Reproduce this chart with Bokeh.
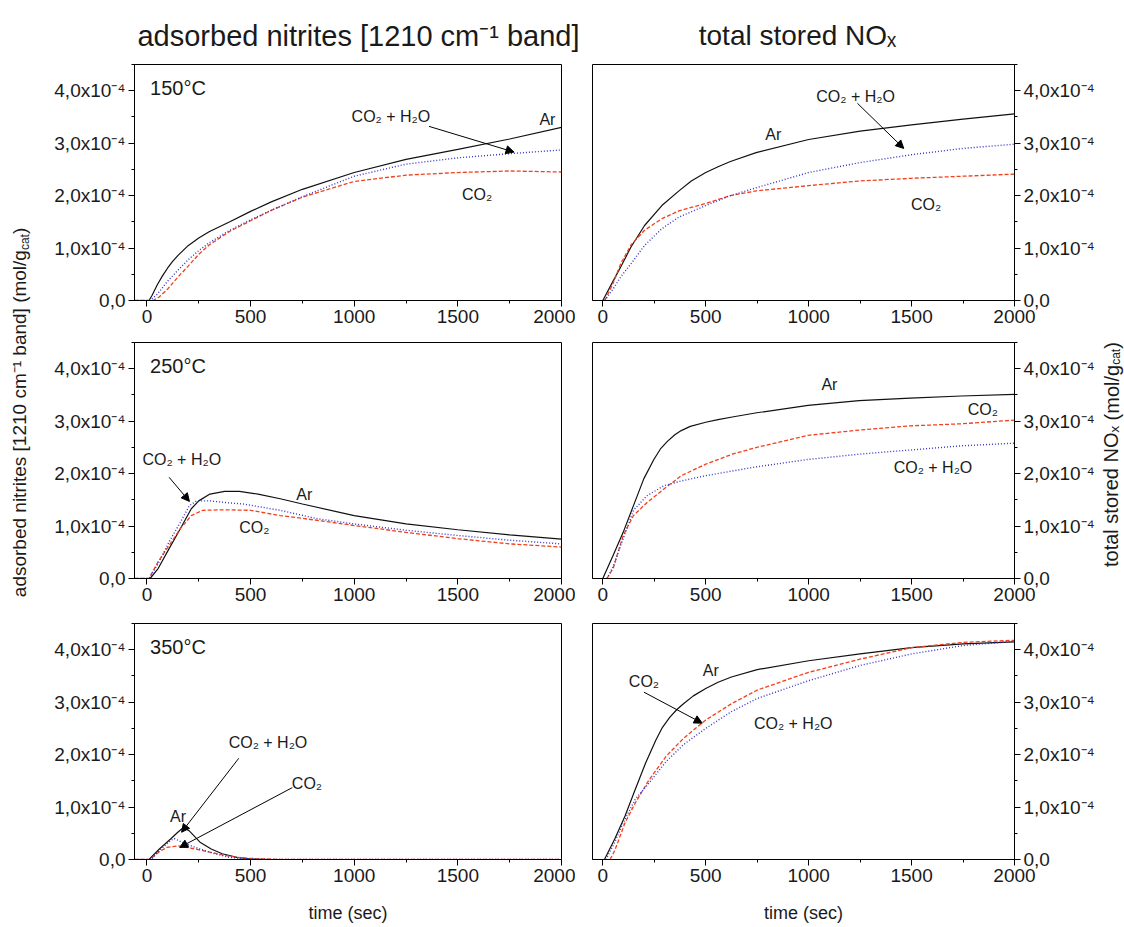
from bokeh.plotting import figure
from bokeh.models import (FixedTicker, CustomJSTickFormatter, Label, Arrow,
                          NormalHead, Range1d)
from bokeh.core.properties import value
from bokeh.layouts import column, row
from bokeh.embed import file_html
from bokeh.resources import INLINE

FONT = "Liberation Sans"
SCALE = 1e-4  # all y values below are in units of 1e-4 mol/g_cat

# ---------------- data (time in s, amount in 1e-4 mol/g_cat) ----------------
# 150 C - adsorbed nitrites
t150n_ar = [-60, 0, 10, 25, 50, 75, 100, 125, 150, 200, 250, 300, 400, 500, 600, 750, 1000, 1250, 1500, 1750, 2000]
y150n_ar = [0, 0, 0, 0.10, 0.30, 0.47, 0.62, 0.75, 0.86, 1.05, 1.19, 1.31, 1.50, 1.70, 1.88, 2.12, 2.44, 2.69, 2.88, 3.08, 3.30]
t150n_co2 = [-60, 0, 30, 60, 100, 150, 200, 250, 300, 400, 500, 600, 750, 1000, 1250, 1500, 1750, 2000]
y150n_co2 = [0, 0, 0, 0.07, 0.22, 0.45, 0.66, 0.88, 1.06, 1.32, 1.52, 1.72, 1.97, 2.27, 2.39, 2.44, 2.47, 2.45]
t150n_h2o = [-60, 0, 15, 50, 100, 150, 200, 250, 300, 400, 500, 600, 750, 1000, 1250, 1500, 1750, 2000]
y150n_h2o = [0, 0, 0, 0.12, 0.37, 0.58, 0.78, 0.95, 1.10, 1.34, 1.54, 1.72, 1.98, 2.37, 2.60, 2.72, 2.80, 2.87]

# 150 C - total stored NOx
t150s_ar = [0, 50, 87, 137, 203, 287, 370, 430, 500, 560, 620, 745, 1000, 1250, 1500, 1750, 2000]
y150s_ar = [0, 0.37, 0.64, 1.02, 1.43, 1.81, 2.09, 2.28, 2.44, 2.55, 2.65, 2.82, 3.07, 3.23, 3.35, 3.46, 3.56]
t150s_co2 = [10, 50, 87, 137, 203, 287, 370, 500, 620, 745, 1000, 1250, 1500, 1750, 2000]
y150s_co2 = [0, 0.33, 0.70, 1.06, 1.34, 1.56, 1.71, 1.85, 2.00, 2.09, 2.19, 2.28, 2.33, 2.37, 2.41]
t150s_h2o = [10, 50, 87, 137, 203, 287, 370, 500, 620, 745, 1000, 1250, 1500, 1750, 2000]
y150s_h2o = [0, 0.22, 0.45, 0.70, 1.05, 1.37, 1.59, 1.81, 2.00, 2.15, 2.44, 2.63, 2.78, 2.90, 2.98]

# 250 C - adsorbed nitrites
t250n_ar = [-60, 0, 15, 54, 107, 161, 214, 250, 304, 375, 446, 536, 643, 750, 1000, 1250, 1500, 1750, 2000]
y250n_ar = [0, 0, 0, 0.19, 0.57, 0.95, 1.33, 1.48, 1.61, 1.66, 1.66, 1.61, 1.52, 1.42, 1.20, 1.04, 0.93, 0.83, 0.75]
t250n_co2 = [-60, 0, 10, 54, 107, 161, 214, 268, 375, 500, 643, 821, 1000, 1250, 1500, 1750, 2000]
y250n_co2 = [0, 0, 0, 0.32, 0.63, 0.95, 1.20, 1.30, 1.31, 1.30, 1.20, 1.11, 1.01, 0.88, 0.76, 0.66, 0.60]
t250n_h2o = [-60, 0, 10, 54, 107, 161, 205, 240, 304, 375, 464, 643, 821, 1000, 1250, 1500, 1750, 2000]
y250n_h2o = [0, 0, 0, 0.28, 0.70, 1.07, 1.39, 1.48, 1.48, 1.45, 1.42, 1.30, 1.14, 1.04, 0.92, 0.82, 0.73, 0.66]

# 250 C - total stored NOx
t250s_ar = [0, 50, 99, 149, 199, 248, 280, 315, 350, 381, 425, 500, 560, 629, 748, 997, 1245, 1493, 1742, 2000]
y250s_ar = [0, 0.44, 0.88, 1.39, 1.90, 2.27, 2.47, 2.62, 2.74, 2.82, 2.90, 2.98, 3.03, 3.08, 3.16, 3.30, 3.39, 3.44, 3.48, 3.51]
t250s_co2 = [20, 50, 99, 149, 215, 298, 381, 500, 629, 748, 997, 1245, 1493, 1742, 2000]
y250s_co2 = [0, 0.19, 0.82, 1.20, 1.45, 1.71, 1.96, 2.18, 2.37, 2.50, 2.73, 2.83, 2.91, 2.95, 3.02]
t250s_h2o = [20, 50, 99, 149, 215, 298, 381, 500, 629, 748, 997, 1245, 1493, 1742, 2000]
y250s_h2o = [0, 0.22, 0.76, 1.30, 1.58, 1.77, 1.86, 1.96, 2.05, 2.13, 2.27, 2.37, 2.45, 2.53, 2.58]

# 350 C - adsorbed nitrites
t350n_ar = [-60, 0, 10, 60, 114, 149, 176, 203, 256, 310, 363, 434, 500, 600, 2000]
y350n_ar = [0, 0, 0, 0.20, 0.39, 0.52, 0.61, 0.55, 0.33, 0.20, 0.11, 0.04, 0.01, 0, 0]
t350n_co2 = [-60, 0, 15, 60, 96, 149, 220, 292, 363, 434, 505, 576, 650, 2000]
y350n_co2 = [0, 0, 0, 0.15, 0.23, 0.26, 0.21, 0.15, 0.09, 0.04, 0.02, 0.01, 0, 0]
t350n_h2o = [-60, 0, 20, 60, 114, 132, 185, 256, 327, 400, 500, 600, 2000]
y350n_h2o = [0, 0, 0, 0.17, 0.36, 0.40, 0.30, 0.20, 0.11, 0.04, 0.01, 0, 0]

# 350 C - total stored NOx
t350s_ar = [8, 58, 108, 158, 208, 258, 290, 325, 360, 392, 440, 500, 560, 625, 750, 1000, 1250, 1500, 1750, 2000]
y350s_ar = [0, 0.39, 0.83, 1.34, 1.84, 2.28, 2.52, 2.71, 2.86, 2.97, 3.12, 3.26, 3.38, 3.48, 3.62, 3.79, 3.92, 4.04, 4.11, 4.15]
t350s_co2 = [35, 58, 108, 158, 225, 308, 392, 500, 625, 750, 1000, 1250, 1500, 1750, 2000]
y350s_co2 = [0, 0.17, 0.70, 1.08, 1.52, 1.97, 2.31, 2.66, 2.97, 3.23, 3.57, 3.82, 4.04, 4.14, 4.18]
t350s_h2o = [15, 58, 108, 158, 225, 308, 392, 500, 625, 750, 1000, 1250, 1500, 1750, 2000]
y350s_h2o = [0, 0.33, 0.77, 1.15, 1.46, 1.87, 2.19, 2.50, 2.82, 3.07, 3.41, 3.70, 3.92, 4.08, 4.16]

x_ticks = [0, 500, 1000, 1500, 2000]
x_minor = [250, 750, 1250, 1750]
y_ticks = [0, 1, 2, 3, 4]
y_minor = [0.5, 1.5, 2.5, 3.5, 4.5]
temps = ["150°C", "250°C", "350°C"]
col_titles = ["adsorbed nitrites [1210 cm⁻¹ band]", "total stored NOₓ"]
ylabel_left = "adsorbed nitrites [1210 cm⁻¹ band] (mol/g"
ylabel_right = "total stored NOₓ (mol/g"
ylabel_sub = "cat"

# ---------------- styling ----------------
C_AR = "#111111"
C_CO2 = "#f2401c"
C_H2O = "#3434c8"
TXT = "#1a1a1a"
NOTE_FS = "16px"

yfmt = CustomJSTickFormatter(code="""
if (Math.abs(tick) < 1e-12) { return "0,0"; }
return (tick * 1e4).toFixed(1).replace('.', ',') + "x10\u207b\u2074";
""")

LBL_W = 34      # left label strip
RLBL_W = 26     # right label strip
TOP_H = 60      # title strip
ROWS = [dict(top=4, bottom=38), dict(top=4, bottom=41), dict(top=4, bottom=66)]
COLS = [dict(fw=427, left=100, right=14, x0=-60, yloc="left"),
        dict(fw=422, left=17, right=84, x0=-50, yloc="right")]
FH = 236


def make_panel(r, c, series):
    rc, cc = ROWS[r], COLS[c]
    p = figure(frame_width=cc["fw"], frame_height=FH,
               min_border_left=cc["left"], min_border_right=cc["right"],
               min_border_top=rc["top"], min_border_bottom=rc["bottom"],
               x_range=Range1d(cc["x0"], 2000), y_range=Range1d(0, 4.5 * SCALE),
               y_axis_location=cc["yloc"], output_backend="svg",
               toolbar_location=None, tools="")
    p.xgrid.visible = False
    p.ygrid.visible = False
    p.outline_line_color = "black"
    p.outline_line_width = 1
    p.outline_line_alpha = 1
    p.background_fill_color = "white"
    p.border_fill_color = "white"
    p.xaxis.ticker = FixedTicker(ticks=x_ticks, minor_ticks=x_minor)
    p.yaxis.ticker = FixedTicker(ticks=[v * SCALE for v in y_ticks],
                                 minor_ticks=[v * SCALE for v in y_minor])
    p.yaxis.formatter = yfmt
    for ax in (p.xaxis, p.yaxis):
        ax.axis_line_color = "black"
        ax.major_tick_line_color = "black"
        ax.minor_tick_line_color = "black"
        ax.major_tick_in = 0
        ax.major_tick_out = 6
        ax.minor_tick_in = 0
        ax.minor_tick_out = 3
        ax.major_label_text_font = FONT
        ax.major_label_text_font_size = "19px"
        ax.major_label_text_color = TXT
        ax.major_label_standoff = 3
    if r == 2:
        p.xaxis.axis_label = "time (sec)"
        p.xaxis.axis_label_text_font = FONT
        p.xaxis.axis_label_text_font_size = "18px"
        p.xaxis.axis_label_text_font_style = "normal"
        p.xaxis.axis_label_text_color = TXT
        p.xaxis.axis_label_standoff = 18

    (ta, ya), (tc, yc), (th, yh) = series
    p.line(ta, [v * SCALE for v in ya], line_color=C_AR, line_width=1.2)
    p.line(tc, [v * SCALE for v in yc], line_color=C_CO2, line_width=1.3, line_dash="4 2")
    p.line(th, [v * SCALE for v in yh], line_color=C_H2O, line_width=1.4, line_dash="1 2")

    if c == 0:
        p.add_layout(Label(x=15, y=4.05 * SCALE, text=temps[r], text_font=FONT,
                           text_font_size="20px", text_color=TXT,
                           text_align="left", text_baseline="middle"))
    return p


def note(p, x, y, text, align="center"):
    p.add_layout(Label(x=x, y=y * SCALE, text=text, text_font=FONT,
                       text_font_size=NOTE_FS, text_color=TXT,
                       text_align=align, text_baseline="middle"))


def arrow(p, x0, y0, x1, y1):
    p.add_layout(Arrow(end=NormalHead(size=8, fill_color="black", line_color="black", line_width=1),
                       x_start=x0, y_start=y0 * SCALE, x_end=x1, y_end=y1 * SCALE,
                       line_color="black", line_width=1))


def blank(w, h):
    f = figure(width=w, height=h, x_range=Range1d(0, w), y_range=Range1d(0, h),
               x_axis_type=None, y_axis_type=None, min_border=0,
               output_backend="svg", toolbar_location=None, tools="")
    f.xgrid.visible = False
    f.ygrid.visible = False
    f.outline_line_color = None
    f.background_fill_color = "white"
    f.border_fill_color = "white"
    return f


p1 = make_panel(0, 0, [(t150n_ar, y150n_ar), (t150n_co2, y150n_co2), (t150n_h2o, y150n_h2o)])
p2 = make_panel(0, 1, [(t150s_ar, y150s_ar), (t150s_co2, y150s_co2), (t150s_h2o, y150s_h2o)])
p3 = make_panel(1, 0, [(t250n_ar, y250n_ar), (t250n_co2, y250n_co2), (t250n_h2o, y250n_h2o)])
p4 = make_panel(1, 1, [(t250s_ar, y250s_ar), (t250s_co2, y250s_co2), (t250s_h2o, y250s_h2o)])
p5 = make_panel(2, 0, [(t350n_ar, y350n_ar), (t350n_co2, y350n_co2), (t350n_h2o, y350n_h2o)])
p6 = make_panel(2, 1, [(t350s_ar, y350s_ar), (t350s_co2, y350s_co2), (t350s_h2o, y350s_h2o)])

# annotations
note(p1, 1177, 3.51, "CO₂ + H₂O"); arrow(p1, 1361, 3.32, 1771, 2.83)
note(p1, 1932, 3.45, "Ar"); note(p1, 1593, 2.03, "CO₂")
note(p2, 1228, 3.89, "CO₂ + H₂O"); arrow(p2, 1237, 3.76, 1462, 2.90)
note(p2, 828, 3.17, "Ar"); note(p2, 1570, 1.84, "CO₂")
note(p3, 168, 2.27, "CO₂ + H₂O"); arrow(p3, 107, 1.93, 205, 1.47)
note(p3, 759, 1.60, "Ar"); note(p3, 518, 0.98, "CO₂")
note(p4, 1101, 3.70, "Ar"); note(p4, 1846, 3.22, "CO₂"); note(p4, 1604, 2.12, "CO₂ + H₂O")
note(p5, 584, 2.24, "CO₂ + H₂O"); arrow(p5, 443, 1.93, 167, 0.52)
note(p5, 772, 1.45, "CO₂"); arrow(p5, 701, 1.37, 158, 0.23)
note(p5, 150, 0.82, "Ar")
note(p6, 525, 3.60, "Ar"); note(p6, 200, 3.40, "CO₂"); arrow(p6, 200, 3.19, 483, 2.60)
note(p6, 925, 2.60, "CO₂ + H₂O")

# ---------------- title strip ----------------
W_TOTAL = LBL_W + (100 + 427 + 14) + (17 + 422 + 84) + RLBL_W
top = blank(W_TOTAL, TOP_H)
top.text(x=[358], y=[25], text=[col_titles[0]], text_font=value(FONT),
         text_font_size=value("29px"), text_color=TXT,
         text_align="center", text_baseline="alphabetic")
top.text(x=[797], y=[25], text=[col_titles[1]], text_font=value(FONT),
         text_font_size=value("28px"), text_color=TXT,
         text_align="center", text_baseline="alphabetic")

# ---------------- y-label strips ----------------
GRID_H = sum(r["top"] + FH + r["bottom"] for r in ROWS)


def vlabel(f, xc, yc, main, w_main, fs=19, sub_fs=12, sub_dx=5):
    w_cat = 1.334 * sub_fs
    w_par = 0.333 * fs
    total = w_main + w_cat + w_par
    start = yc - total / 2
    pnt = start + w_main
    ang = 1.5707963
    f.text(x=[xc], y=[pnt], text=[main], angle=ang, text_font=value(FONT),
           text_font_size=value(f"{fs}px"), text_color=TXT,
           text_align="right", text_baseline="middle")
    f.text(x=[xc + sub_dx], y=[pnt], text=[ylabel_sub], angle=ang, text_font=value(FONT),
           text_font_size=value(f"{sub_fs}px"), text_color=TXT,
           text_align="left", text_baseline="middle")
    f.text(x=[xc], y=[pnt + w_cat], text=[")"], angle=ang, text_font=value(FONT),
           text_font_size=value(f"{fs}px"), text_color=TXT,
           text_align="left", text_baseline="middle")


lstrip = blank(LBL_W, GRID_H)
vlabel(lstrip, 19, GRID_H - (417 - TOP_H), ylabel_left, 18.8 * 19)
rstrip = blank(RLBL_W, GRID_H)
vlabel(rstrip, 13, GRID_H - (456 - TOP_H), ylabel_right, 10.3 * 20, fs=20, sub_fs=12, sub_dx=4)

grid = column(row(p1, p2), row(p3, p4), row(p5, p6))
layout = column(top, row(lstrip, grid, rstrip))
open("out.html", "w").write(file_html(layout, INLINE))
